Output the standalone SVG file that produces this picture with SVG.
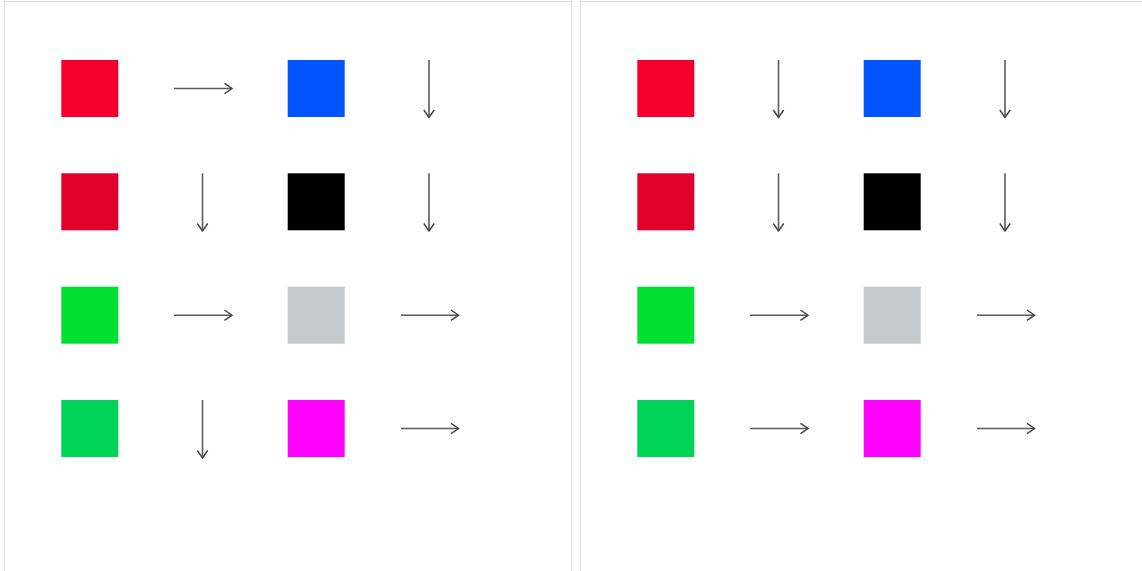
<svg xmlns="http://www.w3.org/2000/svg" width="1142" height="571" viewBox="0 0 1142 571">
<style>
.panel{fill:#fff;stroke:#dcdcdc;stroke-width:1.2}
.sq{stroke:none}
.arr{stroke:#5a5a5a;stroke-width:1.6;fill:none;marker-end:url(#ah)}
</style>
<defs>
<marker id="ah" viewBox="0 0 12 12" refX="10.5" refY="6" markerWidth="12" markerHeight="12" markerUnits="userSpaceOnUse" orient="auto">
<path d="M3,0.8 L10.5,6 L3,11.2" fill="none" stroke="#444" stroke-width="1.5"/>
</marker>
</defs>
<rect width="1142" height="571" fill="#fff"/>
<rect class="panel" x="4.5" y="1.5" width="567" height="580"/>
<rect class="panel" x="580.5" y="1.5" width="580" height="580"/>
<g id="left">
<g id="l-r1c1"><rect class="sq" x="61.3" y="60" width="57" height="57" fill="#f5002d"/></g>
<g id="l-r1c3"><rect class="sq" x="287.7" y="60" width="57" height="57" fill="#0055ff"/></g>
<g id="l-r2c1"><rect class="sq" x="61.3" y="173.3" width="57" height="57" fill="#e0002b"/></g>
<g id="l-r2c3"><rect class="sq" x="287.7" y="173.3" width="57" height="57" fill="#000"/></g>
<g id="l-r3c1"><rect class="sq" x="61.3" y="286.7" width="57" height="57" fill="#00e032"/></g>
<g id="l-r3c3"><rect class="sq" x="287.7" y="286.7" width="57" height="57" fill="#c5cbcc"/></g>
<g id="l-r4c1"><rect class="sq" x="61.3" y="400" width="57" height="57" fill="#00d458"/></g>
<g id="l-r4c3"><rect class="sq" x="287.7" y="400" width="57" height="57" fill="#ff00ff"/></g>
</g>
<g id="right">
<g id="r-r1c1"><rect class="sq" x="637.3" y="60" width="57" height="57" fill="#f5002d"/></g>
<g id="r-r1c3"><rect class="sq" x="863.7" y="60" width="57" height="57" fill="#0055ff"/></g>
<g id="r-r2c1"><rect class="sq" x="637.3" y="173.3" width="57" height="57" fill="#e0002b"/></g>
<g id="r-r2c3"><rect class="sq" x="863.7" y="173.3" width="57" height="57" fill="#000"/></g>
<g id="r-r3c1"><rect class="sq" x="637.3" y="286.7" width="57" height="57" fill="#00e032"/></g>
<g id="r-r3c3"><rect class="sq" x="863.7" y="286.7" width="57" height="57" fill="#c5cbcc"/></g>
<g id="r-r4c1"><rect class="sq" x="637.3" y="400" width="57" height="57" fill="#00d458"/></g>
<g id="r-r4c3"><rect class="sq" x="863.7" y="400" width="57" height="57" fill="#ff00ff"/></g>
</g>
<g id="connectors">
<line class="arr" x1="174" y1="88.5" x2="232" y2="88.5"/>
<line class="arr" x1="429" y1="60" x2="429" y2="117.5"/>
<line class="arr" x1="202.5" y1="173.3" x2="202.5" y2="231"/>
<line class="arr" x1="429" y1="173.3" x2="429" y2="231"/>
<line class="arr" x1="174" y1="315.2" x2="232" y2="315.2"/>
<line class="arr" x1="401" y1="315.2" x2="458.5" y2="315.2"/>
<line class="arr" x1="202.5" y1="400" x2="202.5" y2="458"/>
<line class="arr" x1="401" y1="428.5" x2="458.5" y2="428.5"/>
<line class="arr" x1="778.5" y1="60" x2="778.5" y2="117.5"/>
<line class="arr" x1="1005" y1="60" x2="1005" y2="117.5"/>
<line class="arr" x1="778.5" y1="173.3" x2="778.5" y2="231"/>
<line class="arr" x1="1005" y1="173.3" x2="1005" y2="231"/>
<line class="arr" x1="750" y1="315.2" x2="808" y2="315.2"/>
<line class="arr" x1="977" y1="315.2" x2="1034.5" y2="315.2"/>
<line class="arr" x1="750" y1="428.5" x2="808" y2="428.5"/>
<line class="arr" x1="977" y1="428.5" x2="1034.5" y2="428.5"/>
</g>
</svg>
